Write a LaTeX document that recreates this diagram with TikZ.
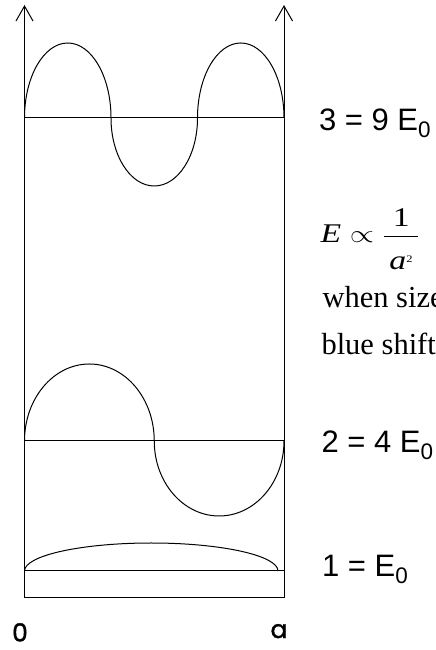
\documentclass[tikz,border=0pt]{standalone}
\usepackage{amsmath}
\usepackage{fontspec}
\setmainfont{Liberation Serif}
\newfontfamily\labelfont{Liberation Sans}
\newfontfamily\handfont[FakeBold=1.5]{Poppins}
\usetikzlibrary{arrows.meta}
\newcommand{\Ezero}{E\raisebox{-7pt}{\fontsize{22.5}{23}\selectfont 0}}

\begin{document}
\begin{tikzpicture}[x=1pt, y=1pt, line width=1pt,
    wall/.style={-{Straight Barb[length=15pt, width=17pt, line width=1pt]}},
    energy/.style={font=\labelfont\fontsize{31}{33}\selectfont, anchor=base west, inner sep=0pt},
    note/.style={font=\fontsize{30.5}{32}\selectfont, anchor=base west, inner sep=0pt},
    edge/.style={font=\handfont\fontsize{25}{26}\selectfont, anchor=base, inner sep=0pt}]
  \useasboundingbox (0,0) rectangle (436,650);

  % Walls of the box
  \draw[wall] (24.5,52) -- (24.5,645);
  \draw[wall] (284,52) -- (284,645);
  \draw (24.5,52) -- (284,52);

  % Energy levels
  \foreach \y in {532, 209, 79} \draw (24.5,\y) -- (284,\y);

  % n = 3
  \draw (24.5,532) arc[start angle=180, end angle=0, x radius=43.25, y radius=75]
    arc[start angle=180, end angle=360, x radius=43.25, y radius=68]
    arc[start angle=180, end angle=0, x radius=43.25, y radius=75];

  % n = 2
  \draw (24.5,209) arc[start angle=180, end angle=0, x radius=64.875, y radius=77]
    arc[start angle=180, end angle=360, x radius=64.875, y radius=75];

  % n = 1
  \draw (24.5,79) arc[start angle=180, end angle=0, x radius=126.75, y radius=28];

  % Labels
  \node[energy] (lvl3) at (318.5,519) {3 = 9 \Ezero};
  \node[energy] (lvl2) at (321,197) {2 = 4 \Ezero};
  \node[energy] (lvl1) at (321.5,73) {1 = \Ezero};
  \node[anchor=base west, inner sep=0pt, font=\fontsize{27}{30}\selectfont,
    xscale=1.25, transform shape] (law) at (320,407)
    {$\textit{E}\propto\dfrac{\text{1}}{\rule{0pt}{29pt}\,\textit{a}^{\text{\fontsize{10}{10}\selectfont 2}}\,}$};
  \node[note] (when) at (322,342) {when size};
  \node[note] (blue) at (321,295) {blue shift};
  \node[edge] (origin) at (20,8.5) {0};
  \node[edge] (width) at (279,12) {a};
\end{tikzpicture}
\end{document}
